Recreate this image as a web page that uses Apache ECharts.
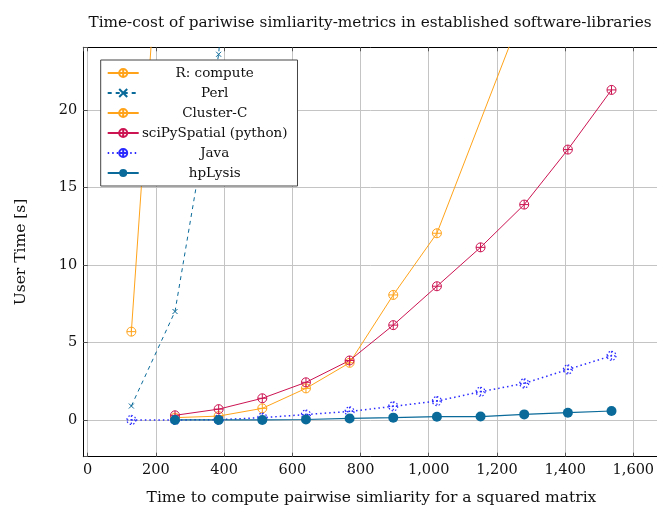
<!DOCTYPE html>
<html>
<head>
<meta charset="utf-8">
<script src="https://cdn.jsdelivr.net/npm/echarts@6/dist/echarts.min.js"></script>
<style>
  html, body { margin: 0; padding: 0; background: #fff; }
  #chart { width: 657px; height: 506px; }
</style>
</head>
<body>
<div id="chart"></div>
<script>
// Matrix sizes (x) and measured user time in seconds (y) per library
const rX = [128, 256];
const rY = [5.7, 46.5];

const perlX = [128, 256, 384, 512];
const perlY = [0.9, 7.0, 23.6, 60];

const clusterX = [256, 384, 512, 640, 768, 896, 1024, 1280];
const clusterY = [0.15, 0.25, 0.75, 2.04, 3.69, 8.07, 12.05, 26.6];

const scipyX = [256, 384, 512, 640, 768, 896, 1024, 1152, 1280, 1408, 1536];
const scipyY = [0.3, 0.7, 1.4, 2.43, 3.84, 6.12, 8.63, 11.14, 13.9, 17.45, 21.3];

const javaX = [128, 256, 384, 512, 640, 768, 896, 1024, 1152, 1280, 1408, 1536];
const javaY = [0, 0, 0.02, 0.15, 0.35, 0.55, 0.88, 1.22, 1.82, 2.36, 3.26, 4.14];

const hpX = [256, 384, 512, 640, 768, 896, 1024, 1152, 1280, 1408, 1536];
const hpY = [0, 0, 0, 0.03, 0.1, 0.15, 0.21, 0.22, 0.36, 0.47, 0.58];

const FONT = 'DejaVu Serif';
const ORANGE = '#ffa31a';
const TEAL = '#0a6a99';
const CRIMSON = '#cc1452';
const BLUE = '#2a2aff';

// circle with a plus inside, and a small cross
const OPLUS = 'path://M0,-10A10,10 0 1,1 0,10A10,10 0 1,1 0,-10ZM-10,0L10,0M0,-10L0,10';
const CROSS = 'path://M-10,-10L10,10M-10,10L10,-10';

const pairs = (xs, ys) => xs.map((x, i) => [x, ys[i]]);

function lineSeries(name, xs, ys, color, opts) {
  return Object.assign({
    name: name,
    type: 'line',
    data: pairs(xs, ys),
    symbol: OPLUS,
    symbolSize: 9,
    showAllSymbol: true,
    clip: true,
    lineStyle: { color: color, width: 1 },
    itemStyle: { color: 'rgba(255,255,255,0)', borderColor: color, borderWidth: 1 },
    emphasis: { disabled: true },
    animation: false,
    z: 3
  }, opts || {});
}

const X_MIN = -12.9, X_MAX = 1677;
const Y_MIN = -2.37, Y_MAX = 24.05;

const thousands = v => Math.round(v).toLocaleString('en-US');

const frameLine = { show: true, onZero: false, lineStyle: { color: '#000', width: 1 } };
const innerTick = { show: true, inside: true, length: 4, lineStyle: { color: '#555' } };
const gridLine = { show: true, lineStyle: { color: '#c4c4c4', width: 1 } };

const chart = echarts.init(document.getElementById('chart'), null, { renderer: 'canvas' });
chart.setOption({
  animation: false,
  backgroundColor: '#fff',
  title: {
    text: 'Time-cost of pariwise simliarity-metrics in established software-libraries',
    left: 365,
    top: 11,
    textAlign: 'center',
    textStyle: { fontFamily: FONT, fontWeight: 'normal', fontSize: 15.3, color: '#111' }
  },
  grid: {
    left: 83.3, right: -2.6, top: 47.3, bottom: 49.3,
    containLabel: false,
    outerBoundsMode: 'none'
  },
  legend: {
    orient: 'vertical',
    left: 100.7,
    top: 60,
    backgroundColor: '#fff',
    borderColor: '#444',
    borderWidth: 1,
    borderRadius: 0,
    padding: [6, 10, 6, 6],
    itemWidth: 31,
    itemHeight: 10,
    itemGap: 6,
    selectedMode: false,
    formatter: name => '{t|' + name + '}',
    textStyle: {
      color: '#111',
      rich: { t: { width: 142, align: 'center', fontFamily: FONT, fontSize: 13.5, lineHeight: 14 } }
    }
  },
  xAxis: [{
    type: 'value',
    min: X_MIN, max: X_MAX,
    minInterval: 200, maxInterval: 200,
    name: 'Time to compute pairwise simliarity for a squared matrix',
    nameLocation: 'middle',
    nameGap: 33,
    nameTextStyle: { fontFamily: FONT, fontSize: 15.5, color: '#111' },
    axisLine: frameLine,
    axisTick: innerTick,
    axisLabel: {
      showMinLabel: false, showMaxLabel: false,
      margin: 6,
      fontFamily: FONT, fontSize: 14.5, color: '#111',
      formatter: v => (Math.abs(v % 200) < 1e-6 ? thousands(v) : '')
    },
    splitLine: gridLine
  }, {
    type: 'value',
    position: 'top',
    min: X_MIN, max: X_MAX,
    minInterval: 200, maxInterval: 200,
    axisLine: frameLine,
    axisTick: innerTick,
    axisLabel: { show: false },
    splitLine: { show: false }
  }],
  yAxis: [{
    type: 'value',
    min: Y_MIN, max: Y_MAX,
    minInterval: 5, maxInterval: 5,
    name: 'User Time [s]',
    nameLocation: 'middle',
    nameGap: 54,
    nameTextStyle: { fontFamily: FONT, fontSize: 15.5, color: '#111' },
    axisLine: frameLine,
    axisTick: innerTick,
    axisLabel: {
      showMinLabel: false, showMaxLabel: false,
      margin: 6,
      fontFamily: FONT, fontSize: 14.5, color: '#111',
      formatter: v => (Math.abs(v % 5) < 1e-6 ? String(v) : '')
    },
    splitLine: gridLine
  }, {
    type: 'value',
    position: 'right',
    min: Y_MIN, max: Y_MAX,
    minInterval: 5, maxInterval: 5,
    axisLine: { show: false },
    axisTick: innerTick,
    axisLabel: { show: false },
    splitLine: { show: false }
  }],
  series: [
    lineSeries('R: compute', rX, rY, ORANGE),
    lineSeries('Perl', perlX, perlY, TEAL, {
      symbol: CROSS, symbolSize: 5,
      lineStyle: { color: TEAL, width: 1, type: [4, 4] }
    }),
    lineSeries('Cluster-C', clusterX, clusterY, ORANGE),
    lineSeries('sciPySpatial (python)', scipyX, scipyY, CRIMSON),
    lineSeries('Java', javaX, javaY, BLUE, {
      lineStyle: { color: BLUE, width: 1.5, type: [1.5, 3] },
      itemStyle: { color: 'rgba(255,255,255,0)', borderColor: BLUE, borderWidth: 1.2, borderType: [1.5, 2] }
    }),
    lineSeries('hpLysis', hpX, hpY, TEAL, {
      symbol: 'circle', symbolSize: 10,
      lineStyle: { color: TEAL, width: 1.2 },
      itemStyle: { color: TEAL, borderColor: TEAL, borderWidth: 0 }
    })
  ]
});
</script>
</body>
</html>
